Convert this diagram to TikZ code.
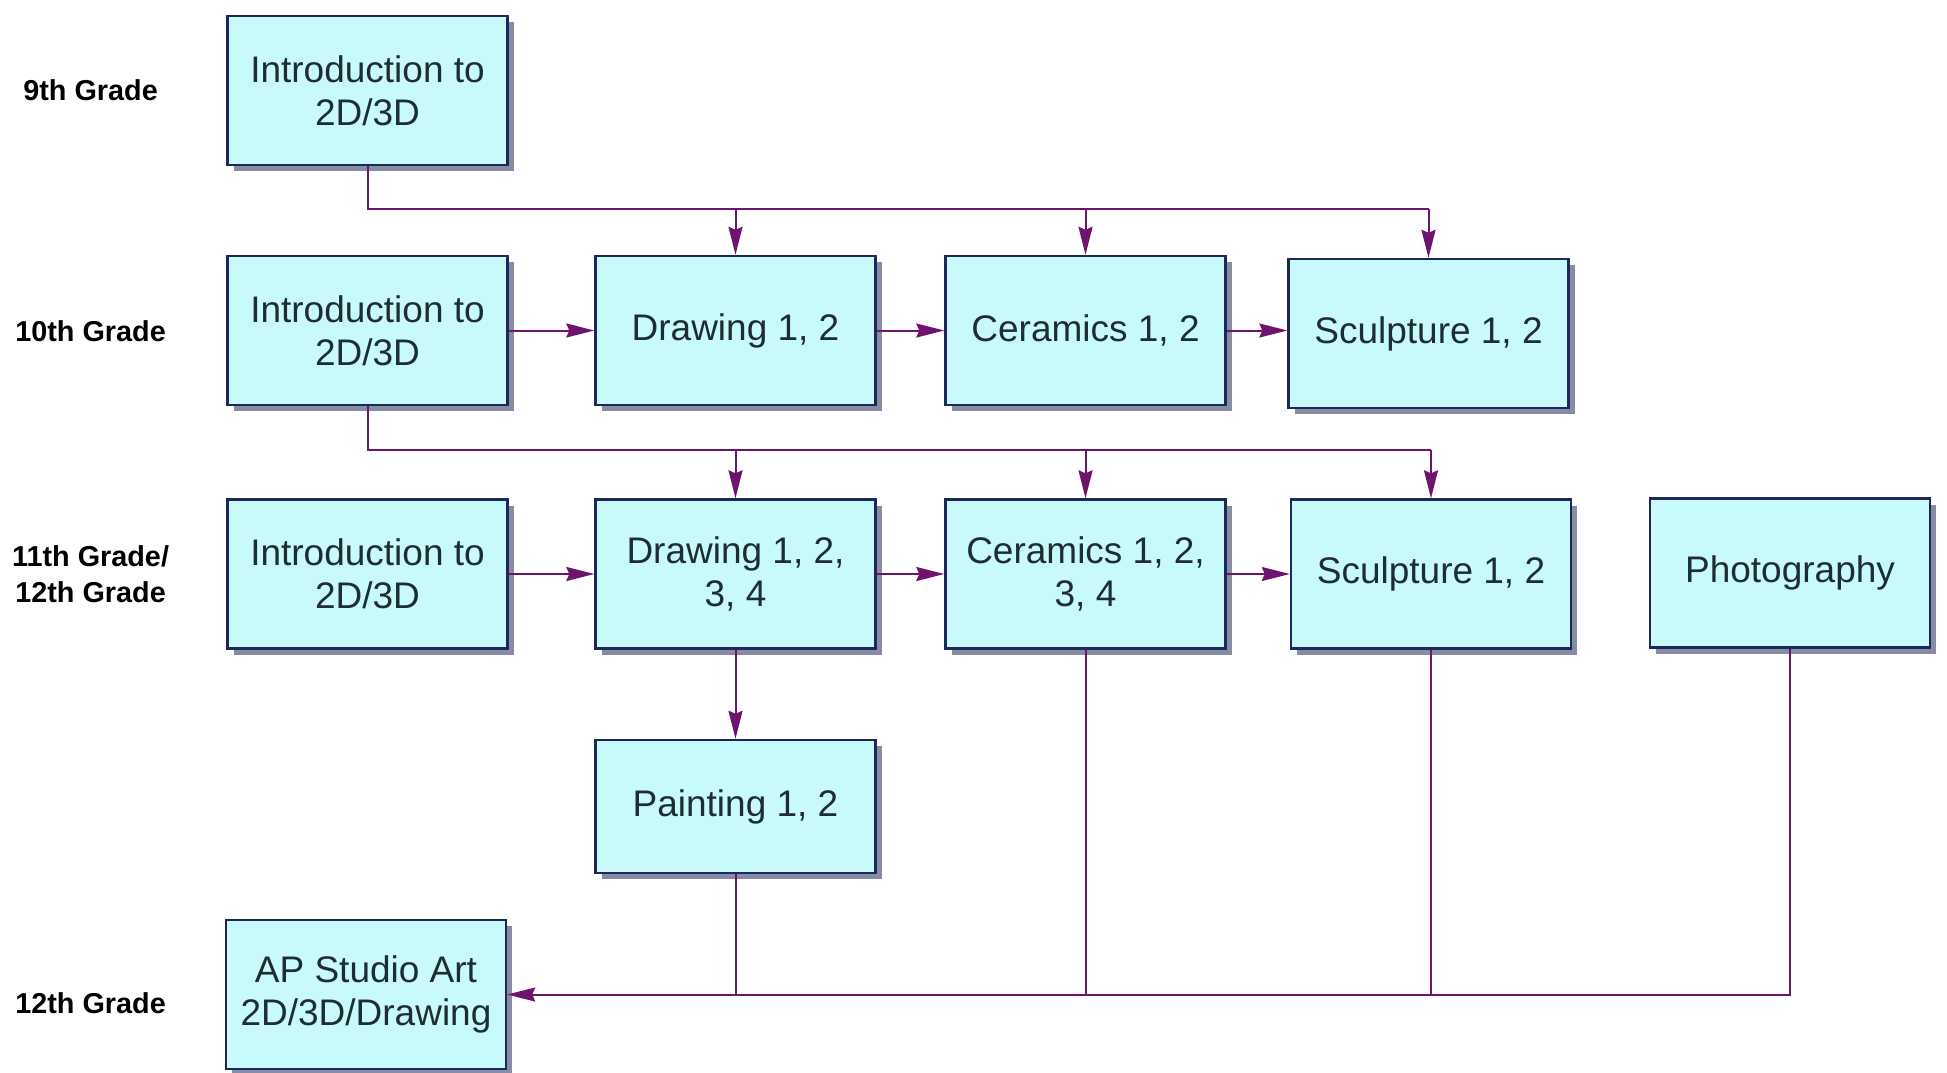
\documentclass[tikz,border=0pt]{standalone}
\usepackage{fontspec}
\setmainfont{Liberation Sans}
\usetikzlibrary{arrows.meta,shadows}
\definecolor{boxfill}{RGB}{200,250,252}
\definecolor{boxline}{RGB}{28,40,90}
\definecolor{boxshade}{RGB}{135,140,165}
\definecolor{linkline}{RGB}{110,20,110}
\definecolor{boxtext}{RGB}{30,45,50}
\tikzset{
  course/.style={draw=boxline, line width=1.2pt, fill=boxfill, text=boxtext,
    minimum width=140pt, minimum height=74.5pt, align=center, inner sep=0pt,
    font=\fontsize{18.5}{21.7}\selectfont,
    drop shadow={shadow xshift=3pt, shadow yshift=-3pt, fill=boxshade, opacity=1}},
  link/.style={draw=linkline, line width=1pt},
  linkarrow/.style={link, -{Stealth[length=14pt,width=7pt,inset=1.5pt]}}
}

\begin{document}
\begin{tikzpicture}[
  x=0.5pt,
  y=-0.5pt,
  gradelabels/.style={font=\fontsize{14.4}{18}\selectfont\bfseries, align=center}
]
\useasboundingbox (0,0) rectangle (1947,1072);

\foreach [count=\i] \y/\t in
                  {90.6/{9th Grade},
                   331.5/{10th Grade},
                   574/{11th Grade/\\12th Grade},
                   1003/{12th Grade}}
  {
   \node [gradelabels, name=grade-\i] at (90.6,\y) {\t};
  }

\foreach \n/\x/\y/\h/\t in
                  {intro9/367.5/90.5/74.5/{Introduction to\\2D/3D},
                   intro10/367.5/330.5/74.5/{Introduction to\\2D/3D},
                   draw10/735.5/330.5/74.5/{Drawing 1, 2},
                   ceram10/1085.5/330.5/74.5/{Ceramics 1, 2},
                   sculpt10/1428.5/333.5/74.5/{Sculpture 1, 2},
                   intro11/367.5/574/74.5/{Introduction to\\2D/3D},
                   draw11/735.5/574/74.5/{Drawing 1, 2,\\3, 4},
                   ceram11/1085.5/574/74.5/{Ceramics 1, 2,\\3, 4},
                   sculpt11/1431/574/74.5/{Sculpture 1, 2},
                   photo/1790/573/74.5/{Photography},
                   paint/735.5/806.5/66.5/{Painting 1, 2},
                   ap/366/994.5/74.5/{AP Studio Art\\2D/3D/Drawing}}
  {
   \node [course, name=\n, minimum height=\h pt] at (\x,\y) {\t};
  }

% 9th grade and 10th grade feed the next rows
\coordinate (bus9) at (0,208.6);
\coordinate (bus10) at (0,449.5);
\draw[link] (intro9.south) |- (bus9 -| sculpt10.north);
\draw[link] (intro10.south) |- (bus10 -| sculpt11.north);
\foreach \c in {draw10,ceram10,sculpt10}
  \draw[linkarrow] (bus9 -| \c.north) -- (\c.north);
\foreach \c in {draw11,ceram11,sculpt11}
  \draw[linkarrow] (bus10 -| \c.north) -- (\c.north);

\foreach \a/\b in {intro10/draw10, draw10/ceram10, ceram10/sculpt10,
                   intro11/draw11, draw11/ceram11, ceram11/sculpt11}
  \draw[linkarrow] (\a.east) -- (\a.east -| \b.west);

\draw[linkarrow] (draw11.south) -- (paint.north);

% everything ends in AP
\draw[linkarrow] (photo.south) |- (ap.east);
\foreach \c in {paint,ceram11,sculpt11}
  \draw[link] (\c.south) -- (\c.south |- ap.east);

\end{tikzpicture}
\end{document}
